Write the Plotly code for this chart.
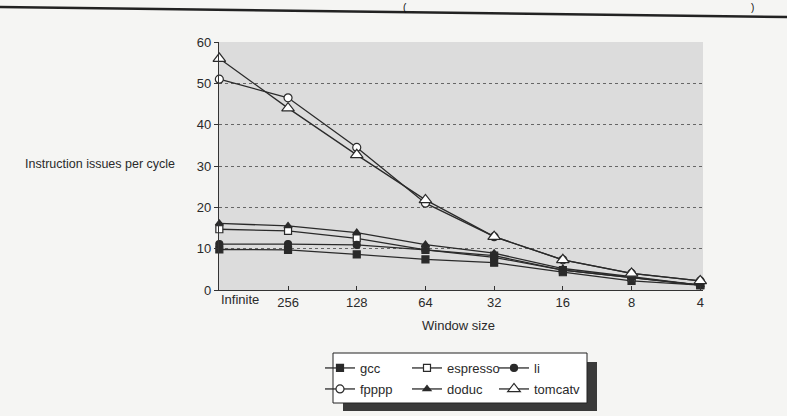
import plotly.graph_objects as go

# ---- data ----
windows = ["Infinite", "256", "128", "64", "32", "16", "8", "4"]
gcc = [9.8, 9.7, 8.6, 7.4, 6.6, 4.3, 2.2, 1.2]
espresso = [14.7, 14.3, 12.5, 9.7, 8.3, 4.8, 3.0, 1.2]
li = [11.1, 11.1, 10.9, 9.7, 7.9, 4.8, 3.0, 1.2]
fpppp = [51.0, 46.5, 34.5, 21.0, 12.9, 7.3, 4.0, 2.2]
doduc = [16.1, 15.5, 13.9, 11.0, 8.9, 5.2, 3.2, 1.2]
tomcatv = [56.0, 44.0, 32.7, 21.8, 12.9, 7.3, 4.0, 2.2]
y_ticks = [0, 10, 20, 30, 40, 50, 60]

W, H = 787, 416
L, R, T, B = 219, 703, 42, 290  # plot area in pixels


def px(x):
    return (x - L) / (R - L)


def py(y):
    return (B - y) / (B - T)


FONT = "Liberation Sans, Arial, Helvetica, sans-serif"
INK = "#2a2a2a"
xpos = list(range(len(windows)))

series = [
    ("gcc", gcc, "square", INK, 7, "legend"),
    ("espresso", espresso, "square", "white", 7, "legend"),
    ("li", li, "circle", INK, 7, "legend"),
    ("fpppp", fpppp, "circle", "white", 8, "legend2"),
    ("doduc", doduc, "triangle-up", INK, 7, "legend2"),
    ("tomcatv", tomcatv, "triangle-up", "white", 11, "legend2"),
]

fig = go.Figure()
for name, vals, sym, fill, size, lg in series:
    fig.add_trace(go.Scatter(
        x=xpos, y=vals, name=name, mode="lines+markers",
        line=dict(color=INK, width=1.3),
        marker=dict(symbol=sym, color=fill, size=size,
                    line=dict(color=INK, width=1.2)),
        legend=lg, cliponaxis=False,
    ))

# legend box with drop shadow
shapes = [
    dict(type="rect", xref="paper", yref="paper",
         x0=px(343), x1=px(597), y0=py(411), y1=py(362),
         fillcolor="#3a3a3a", line=dict(width=0), layer="above"),
    dict(type="rect", xref="paper", yref="paper",
         x0=px(333), x1=px(587), y0=py(403), y1=py(353),
         fillcolor="white", line=dict(color="#222", width=1), layer="above"),
    dict(type="line", xref="paper", yref="paper",
         x0=px(0), x1=px(W), y0=py(7), y1=py(17),
         line=dict(color="#222", width=2.5)),
]

annotations = [
    dict(text="Instruction issues per cycle", x=px(23), y=py(164),
         xref="paper", yref="paper", xanchor="left", yanchor="middle",
         showarrow=False, font=dict(size=12.5, color=INK, family=FONT)),
    dict(text="Window size", x=px(458), y=py(325),
         xref="paper", yref="paper", xanchor="center", yanchor="middle",
         showarrow=False, font=dict(size=13, color=INK, family=FONT)),
    dict(text=windows[0], x=0, y=py(299), xref="x", yref="paper",
         xanchor="left", yanchor="middle", showarrow=False,
         font=dict(size=13, color=INK, family=FONT)),
    dict(text="(", x=px(405), y=py(0), xref="paper", yref="paper",
         xanchor="center", yanchor="top", showarrow=False,
         font=dict(size=10, color="#111", family=FONT)),
    dict(text=")", x=px(752), y=py(0), xref="paper", yref="paper",
         xanchor="center", yanchor="top", showarrow=False,
         font=dict(size=10, color="#111", family=FONT)),
]

legend_common = dict(
    orientation="h", xref="paper", yref="paper",
    xanchor="left", yanchor="middle",
    bgcolor="rgba(0,0,0,0)", borderwidth=0,
    font=dict(size=13, color=INK, family=FONT),
    entrywidth=42, entrywidthmode="pixels", itemwidth=30,
)

fig.update_layout(
    width=W, height=H,
    margin=dict(l=L, r=W - R, t=T, b=H - B, pad=0, autoexpand=False),
    paper_bgcolor="#f5f5f3",
    plot_bgcolor="#dcdcdc",
    font=dict(family=FONT, size=13, color=INK),
    showlegend=True,
    legend=dict(x=px(320), y=py(368), **legend_common),
    legend2=dict(x=px(320), y=py(389), **legend_common),
    shapes=shapes,
    annotations=annotations,
    xaxis=dict(
        range=[-0.005, 7.04], tickvals=xpos,
        ticktext=[""] + windows[1:],
        showgrid=False, zeroline=False,
        showline=True, linecolor="#333", linewidth=1.2,
        ticks="inside", ticklen=4, tickcolor="#333",
        tickfont=dict(size=13, color=INK, family=FONT),
    ),
    yaxis=dict(
        range=[0, 60], tickvals=y_ticks,
        showgrid=True, gridcolor="#666", griddash="dot", gridwidth=1,
        zeroline=False,
        showline=True, linecolor="#333", linewidth=1.2,
        ticks="outside", ticklen=4, tickcolor="#333",
        tickfont=dict(size=13, color=INK, family=FONT),
    ),
)

fig.write_html(
    "out.html",
    config={"displayModeBar": False},
    post_script="document.body.style.margin='0';document.body.style.background='#f5f5f3';",
)
